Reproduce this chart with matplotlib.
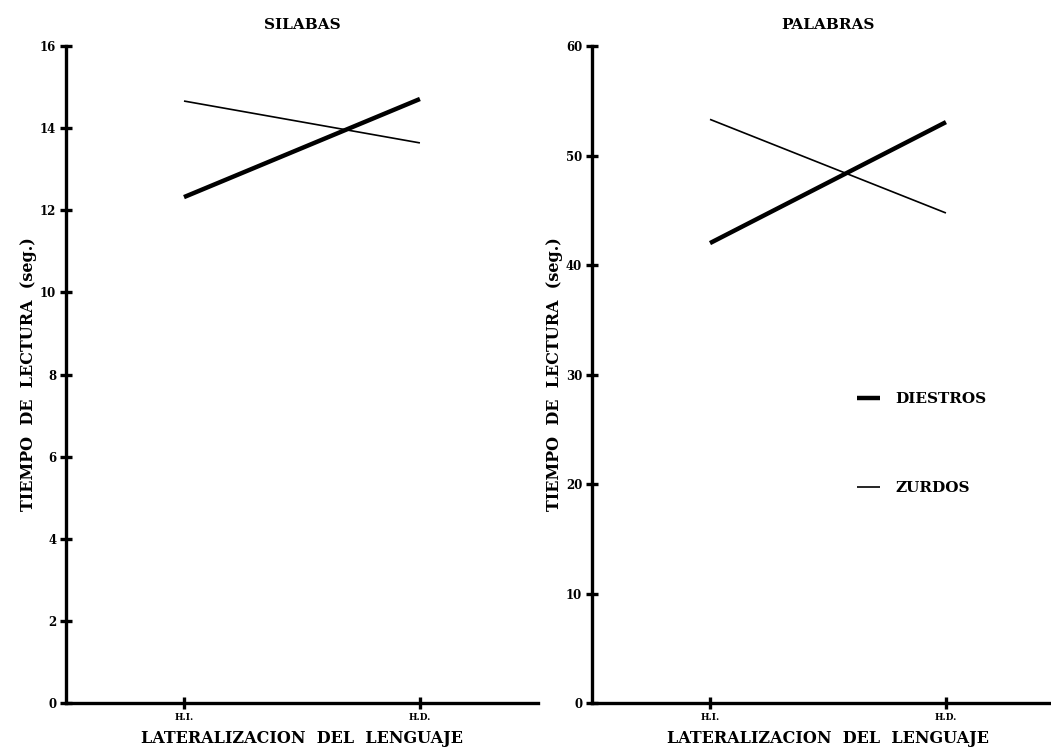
import matplotlib

matplotlib.use("Agg")
import matplotlib.pyplot as plt

categories = ["H.I.", "H.D."]

silabas_diestros = [12.32, 14.71]
silabas_zurdos = [14.66, 13.64]

palabras_diestros = [42.0, 53.05]
palabras_zurdos = [53.3, 44.75]

silabas_ticks = [0, 2, 4, 6, 8, 10, 12, 14, 16]
palabras_ticks = [0, 10, 20, 30, 40, 50, 60]

plt.rcParams["font.family"] = ["DejaVu Serif"]
plt.rcParams["font.weight"] = "bold"

fig = plt.figure(figsize=(10.51, 7.53), dpi=100)
ax1 = fig.add_axes([0.0628, 0.0664, 0.449, 0.8725])
ax2 = fig.add_axes([0.5633, 0.0664, 0.449, 0.8725])

panels = [
    (ax1, "SILABAS", silabas_diestros, silabas_zurdos, silabas_ticks),
    (ax2, "PALABRAS", palabras_diestros, palabras_zurdos, palabras_ticks),
]

x = list(range(len(categories)))
for ax, title, diestros, zurdos, ticks in panels:
    ax.plot(x, diestros, color="black", linewidth=3.2, label="DIESTROS",
            solid_capstyle="butt")
    ax.plot(x, zurdos, color="black", linewidth=1.2, label="ZURDOS",
            solid_capstyle="butt")
    ax.set_xlim(-0.5, 1.5)
    ax.set_ylim(ticks[0], ticks[-1])
    ax.set_xticks(x)
    ax.set_xticklabels(categories, fontsize=6.5, fontweight="bold")
    ax.set_yticks(ticks)
    ax.set_yticklabels([str(t) for t in ticks], fontsize=8.5, fontweight="bold")
    for side in ["top", "right"]:
        ax.spines[side].set_visible(False)
    for side in ["left", "bottom"]:
        ax.spines[side].set_linewidth(2.4)
        ax.spines[side].set_clip_on(False)
    ax.tick_params(axis="both", direction="inout", length=8, width=2.4, pad=3)
    ax.set_title(title, fontsize=11, fontweight="bold", pad=12)
    ax.set_xlabel("LATERALIZACION  DEL  LENGUAJE", fontsize=11.5,
                  fontweight="bold", labelpad=6)
    ax.set_ylabel("TIEMPO  DE  LECTURA  (seg.)", fontsize=11.5,
                  fontweight="bold", labelpad=2)

leg = ax2.legend(loc="upper left", bbox_to_anchor=(0.533, 0.494), frameon=False,
                 fontsize=11, handlelength=1.5, handletextpad=1.0,
                 labelspacing=4.9)
for text in leg.get_texts():
    text.set_fontweight("bold")

fig.savefig("out.png", dpi=100)
